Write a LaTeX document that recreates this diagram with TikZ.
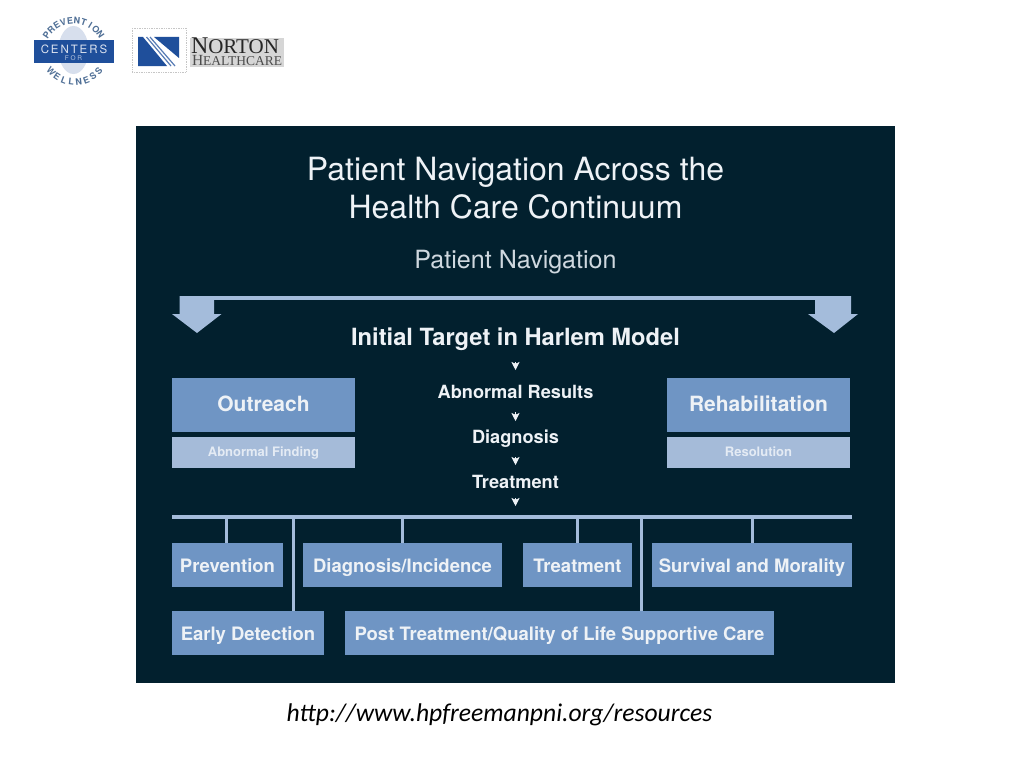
\documentclass[tikz,border=0pt]{standalone}
\usepackage{fontspec}
\setmainfont{TeX Gyre Heros}
\newfontfamily\urlfont{Carlito}
\newfontfamily\logofont{Liberation Serif}
\usetikzlibrary{arrows.meta,calc}
\definecolor{panel}{HTML}{02202E}
\definecolor{boxblue}{HTML}{6F95C4}
\definecolor{boxlight}{HTML}{A5BBD9}
\definecolor{linelight}{HTML}{A4BCDB}
\definecolor{txtmain}{HTML}{EEF2F6}
\definecolor{txtsoft}{HTML}{CFD8DF}
\definecolor{txtpale}{HTML}{E4EBF4}
\definecolor{logoblue}{HTML}{1F4F9B}
\definecolor{logotext}{HTML}{4F6F96}
\newcommand{\sz}[1]{\fontsize{#1}{#1}\selectfont}
\tikzset{
  x=1pt,y=-1pt,
  flat/.style={inner sep=0pt,outer sep=0pt,anchor=center,align=center},
  headtext/.style={flat,anchor=base,text=txtmain,font=\sz{32}},
  subtext/.style={flat,anchor=base,text=txtsoft,font=\sz{25.1}},
  targettext/.style={flat,anchor=base,text=txtmain,font=\sz{23.7}\bfseries},
  steptext/.style={flat,anchor=base,text=txtmain,font=\sz{18.2}\bfseries},
  bigbox/.style={flat,fill=boxblue,draw=none,minimum width=183pt,minimum height=54pt,text height=12pt,text depth=0pt,text=txtmain,font=\sz{21}\bfseries},
  palebox/.style={flat,fill=boxlight,draw=none,minimum width=183pt,minimum height=31pt,text height=8.5pt,text depth=0pt,text=txtpale,font=\sz{13}\bfseries},
  smallbox/.style={flat,fill=boxblue,draw=none,minimum height=44pt,text height=15pt,text depth=0pt,text=txtmain,font=\sz{18.5}\bfseries},
  railline/.style={draw=linelight,line width=3.4pt},
  dropline/.style={draw=linelight,line width=3pt},
  tinyarrow/.style={draw=txtmain,line width=0.6pt,-{Stealth[length=8pt,width=8pt,inset=1.8pt]}},
  bigarrow/.style={fill=linelight,draw=none},
  rail/.style={flat,fill=linelight,minimum height=3.4pt},
  sealletter/.style={flat,text=logotext,font=\sz{9}\bfseries},
}
\begin{document}
\begin{tikzpicture}
\useasboundingbox (0,0) rectangle (1024,768);
\fill[white] (0,0) rectangle (1024,768);

% logo: Centers for Prevention and Wellness
\fill[logoblue!18!white] (73.5,50) ellipse[x radius=15,y radius=24];
\foreach \ch [count=\i] in {P,R,E,V,E,N,T,I,O,N}{
  \pgfmathsetmacro{\off}{-56+(\i-1)*12.44}
  \node[sealletter,rotate=-\off] (top\i) at ({73.5+32.5*sin(\off)},{53-32.5*cos(\off)}) {\ch};
}
\foreach \ch [count=\i] in {W,E,L,L,N,E,S,S}{
  \pgfmathsetmacro{\off}{-48+(\i-1)*13.7}
  \node[sealletter,rotate=\off] (bot\i) at ({75+32*sin(\off)},{50+32*cos(\off)}) {\ch};
}
\fill[logoblue] (34,40) rectangle (114,63);
\node[flat,text=white!85!logoblue,font=\sz{11.5}] (centers) at (74,49) {C\,E\,N\,T\,E\,R\,S};
\node[flat,text=white!65!logoblue,font=\sz{6.5}] (for) at (73.5,58.5) {F O R};

% logo: Norton Healthcare
\draw[gray!45,densely dotted,line width=0.7pt] (132,28) rectangle (186,72);
\fill[logoblue] (138,37) -- (143,37) -- (167,66) -- (138,66) -- cycle;
\fill[logoblue] (154,37) -- (179,37) -- (179,58) -- cycle;
\draw[logoblue!75,line width=1.2pt] (146.5,37) -- (171,66);
\draw[logoblue!75,line width=1.2pt] (150,37) -- (175,66);
\fill[black!16] (190,38) rectangle (284,67);
\node[flat,anchor=base west,text=black!85,font=\logofont\sz{24}] (norton) at (191,54) {N\sz{21}ORTON};
\node[flat,anchor=base west,text=black!70,font=\logofont\sz{15.5}] (hc) at (192,66) {H\sz{13.5}EALTHCARE};

% panel
\fill[panel] (136,126) rectangle (895,683);
\node[headtext] (title1) at (515.5,180) {Patient Navigation Across the};
\node[headtext] (title2) at (515.5,218) {Health Care Continuum};
\node[subtext] (pn) at (515.5,268.5) {Patient Navigation};

% top rail and block arrows
\coordinate (la) at (197,298);
\coordinate (ra) at (833,298);
\draw[railline] (la) -- (ra);
\fill[bigarrow] (179.5,296) -- (214,296) -- (214,314) -- (221.5,314) -- (197,333) -- (172,314) -- (179.5,314) -- cycle;
\fill[bigarrow] (815,296) -- (851,296) -- (851,314) -- (858,314) -- (834,333) -- (808,314) -- (815,314) -- cycle;

% centre column
\node[targettext] (init) at (515.5,345) {Initial Target in Harlem Model};
\node[steptext] (abn) at (515.5,398) {Abnormal Results};
\node[steptext] (diag) at (515.5,443.7) {Diagnosis};
\node[steptext] (treat) at (515.5,488) {Treatment};
\node[rail,minimum width=680pt] (hrail) at (512,517) {};
\draw[tinyarrow,shorten <=17pt,shorten >=28pt] (init.base) -- (abn.base);
\draw[tinyarrow,shorten <=14pt,shorten >=22.7pt] (abn.base) -- (diag.base);
\draw[tinyarrow,shorten <=13.3pt,shorten >=23pt] (diag.base) -- (treat.base);
\draw[tinyarrow,shorten <=10pt,shorten >=9.3pt] (treat.base) -- (treat.base |- hrail.north);

% side boxes
\node[bigbox] (out) at (263.5,405) {Outreach};
\node[palebox] (find) at (263.5,452.5) {Abnormal Finding};
\node[bigbox] (reh) at (758.5,405) {Rehabilitation};
\node[palebox] (res) at (758.5,452.5) {Resolution};

% lower boxes
\node[smallbox,minimum width=111pt] (prev) at (227.5,565) {Prevention};
\node[smallbox,minimum width=199pt] (inc) at (402.5,565) {Diagnosis/Incidence};
\node[smallbox,minimum width=109pt] (trb) at (577.5,565) {Treatment};
\node[smallbox,minimum width=200pt] (sur) at (752,565) {Survival and Morality};
\node[smallbox,minimum width=152pt] (early) at (248,633) {Early Detection};
\node[smallbox,minimum width=429pt] (post) at (559.5,633) {Post Treatment/Quality of Life Supportive Care};

% droppers
\draw[dropline] ([xshift=-1.5pt]prev.north) -- ([xshift=-1.5pt]prev.north |- hrail.center);
\draw[dropline] (inc.north) -- (inc.north |- hrail.center);
\draw[dropline] (trb.north) -- (trb.north |- hrail.center);
\draw[dropline] (sur.north) -- (sur.north |- hrail.center);
\draw[dropline] ([xshift=45pt]early.north) -- ([xshift=45pt]early.north |- hrail.center);
\draw[dropline] ([xshift=81.5pt]post.north) -- ([xshift=81.5pt]post.north |- hrail.center);

% caption
\node[flat,anchor=base,text=black,font=\urlfont\itshape\sz{25.6}] (url) at (499.5,721) {http://www.hpfreemanpni.org/resources};
\end{tikzpicture}
\end{document}
